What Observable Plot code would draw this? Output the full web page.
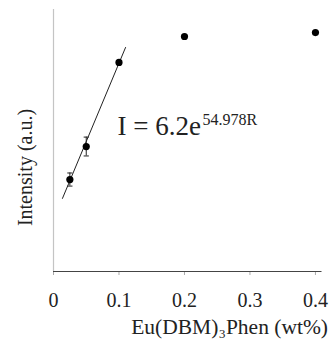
<!DOCTYPE html>
<html>
<head>
<meta charset="utf-8">
<script src="https://cdn.jsdelivr.net/npm/d3@7"></script>
<script src="https://cdn.jsdelivr.net/npm/@observablehq/plot@0.6"></script>
<style>
  html, body { margin: 0; padding: 0; background: #fff; }
</style>
</head>
<body>
<div id="chart"></div>
<script>
// Data (intensity in arbitrary units, 0–100 on an unlabeled axis)
const concentration = [0.025, 0.05, 0.1, 0.2, 0.4];
const intensity = [35.1, 47.7, 79.8, 89.7, 91.2];
const errorBar = [2.5, 3.6, 0, 0, 0];
// Fitted line endpoints
const fitX = [0.0137, 0.110];
const fitY = [27.9, 85.5];
const xTicks = [0, 0.1, 0.2, 0.3, 0.4];
const xTickLabels = ["0", "0.1", "0.2", "0.3", "0.4"];
const xTitle = "Eu(DBM)\u2083Phen (wt%)";
const yTitle = "Intensity (a.u.)";
const eqMain = "I = 6.2e";
const eqExp = "54.978R";

const points = concentration.map((x, i) => ({x, y: intensity[i], e: errorBar[i]}));
const errs = points.filter(d => d.e > 0);
const fit = fitX.map((x, i) => ({x, y: fitY[i]}));

const capSymbol = {
  draw(context, size) {
    const r = 2.6;
    context.moveTo(-r, 0);
    context.lineTo(r, 0);
  }
};

const font = "'Liberation Serif', serif";

const chart = Plot.plot({
  width: 329,
  height: 340,
  marginLeft: 53,
  marginRight: 7.5,
  marginTop: 9,
  marginBottom: 69,
  style: {fontFamily: font, color: "#222", background: "#fff"},
  x: {domain: [0, 0.41]},
  y: {domain: [0, 100], axis: null},
  marks: [
    Plot.ruleX([0], {stroke: "#c4c4c4", strokeWidth: 1.2}),
    Plot.axisX({
      ticks: xTicks,
      tickFormat: (d) => xTickLabels[xTicks.indexOf(d)],
      tickSize: 4,
      tickPadding: 17,
      stroke: "#aaa",
      fontSize: 20,
      fill: "#222",
      label: null
    }),
    Plot.ruleY([0], {stroke: "#444", strokeWidth: 1.2}),
    Plot.line(fit, {x: "x", y: "y", stroke: "#222", strokeWidth: 1}),
    Plot.ruleX(errs, {x: "x", y1: d => d.y - d.e, y2: d => d.y + d.e, stroke: "#222", strokeWidth: 1}),
    Plot.dot(errs, {x: "x", y: d => d.y - d.e, symbol: capSymbol, stroke: "#222", fill: "none", strokeWidth: 1}),
    Plot.dot(errs, {x: "x", y: d => d.y + d.e, symbol: capSymbol, stroke: "#222", fill: "none", strokeWidth: 1}),
    Plot.dot(points, {x: "x", y: "y", r: 3.6, fill: "#000", stroke: "none"}),
    Plot.text([eqMain], {frameAnchor: "top-left", dx: 64, dy: 116.5, textAnchor: "start", lineAnchor: "middle", fontSize: 27, fill: "#222"}),
    Plot.text([eqExp], {frameAnchor: "top-left", dx: 149, dy: 110, textAnchor: "start", lineAnchor: "middle", fontSize: 16, fill: "#222"}),
    Plot.text([yTitle], {frameAnchor: "left", rotate: -90, dx: -28, dy: 27, textAnchor: "middle", lineAnchor: "middle", fontSize: 20, fill: "#222"}),
    Plot.text([xTitle], {frameAnchor: "bottom-right", dx: 6, dy: 55.5, textAnchor: "end", lineAnchor: "middle", fontSize: 21.5, fill: "#222"})
  ]
});

document.getElementById("chart").append(chart);
</script>
</body>
</html>
